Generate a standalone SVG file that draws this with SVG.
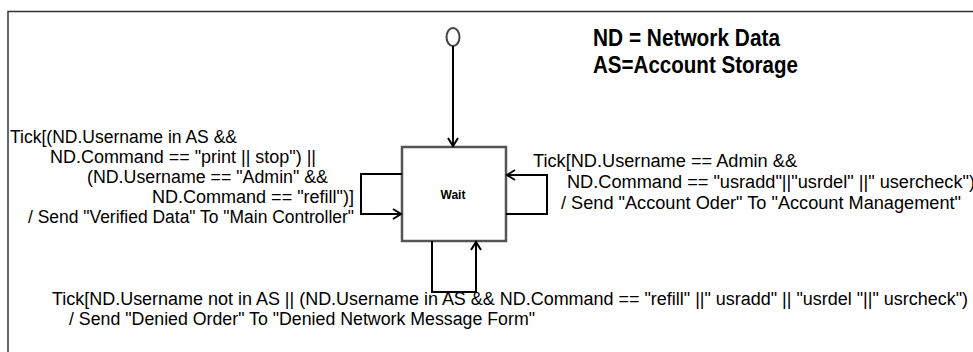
<svg xmlns="http://www.w3.org/2000/svg" width="973" height="352" viewBox="0 0 973 352">
<style>
.t{font-family:"Liberation Sans",Arial,sans-serif;font-size:18px;fill:#000}
.lg{font-family:"Liberation Sans",Arial,sans-serif;font-size:24px;font-weight:bold;fill:#000}
.c{fill:none;stroke:#000;stroke-width:2}
</style>
<defs>
<marker id="arr" markerUnits="userSpaceOnUse" markerWidth="14" markerHeight="14" refX="10" refY="6" orient="auto">
<path d="M2,1 L10,6 L2,11" fill="none" stroke="#000" stroke-width="2"/>
</marker>
</defs>
<rect width="973" height="352" fill="#fff"/>
<path d="M8,352 V11.5 H973" fill="none" stroke="#333" stroke-width="1.5"/>
<g id="legend">
<text class="lg" x="593" y="45.5" textLength="187" lengthAdjust="spacingAndGlyphs">ND = Network Data</text>
<text class="lg" x="593" y="73" textLength="205" lengthAdjust="spacingAndGlyphs">AS=Account Storage</text>
</g>
<g id="initial">
<ellipse cx="453" cy="37" rx="6.5" ry="9" fill="#fff" stroke="#444" stroke-width="2"/>
</g>
<g id="wait">
<rect x="402" y="147" width="104" height="94" fill="#fff" stroke="#555" stroke-width="2.5"/>
<text x="453" y="199" text-anchor="middle" font-family="Liberation Sans, Arial, sans-serif" font-size="12" font-weight="bold">Wait</text>
</g>
<g id="connectors">
<path class="c" d="M453,46 V146" marker-end="url(#arr)"/>
<path class="c" d="M402,174 H361 V214 H401" marker-end="url(#arr)"/>
<path class="c" d="M506,214 H547 V175 H507" marker-end="url(#arr)"/>
<path class="c" d="M432,241 V292 H476 V242" marker-end="url(#arr)"/>
</g>
<g id="label-left">
<text class="t" x="10" y="143" textLength="227" lengthAdjust="spacingAndGlyphs">Tick[(ND.Username in AS &amp;&amp;</text>
<text class="t" x="50" y="163" textLength="266" lengthAdjust="spacingAndGlyphs">ND.Command == "print || stop")  ||</text>
<text class="t" x="87" y="183" textLength="241" lengthAdjust="spacingAndGlyphs">(ND.Username == "Admin" &amp;&amp;</text>
<text class="t" x="152" y="203" textLength="202" lengthAdjust="spacingAndGlyphs">ND.Command == "refill")]</text>
<text class="t" x="28" y="223" textLength="326" lengthAdjust="spacingAndGlyphs">/ Send "Verified Data" To "Main Controller"</text>
</g>
<g id="label-right">
<text class="t" x="533" y="167" textLength="264" lengthAdjust="spacingAndGlyphs">Tick[ND.Username == Admin  &amp;&amp;</text>
<text class="t" x="567" y="188" textLength="408" lengthAdjust="spacingAndGlyphs">ND.Command == "usradd"||"usrdel" ||" usercheck")</text>
<text class="t" x="561" y="209" textLength="400" lengthAdjust="spacingAndGlyphs">/ Send "Account Oder" To "Account Management"</text>
</g>
<g id="label-bottom">
<text class="t" x="52" y="305" textLength="916" lengthAdjust="spacingAndGlyphs">Tick[ND.Username not in AS ||  (ND.Username in AS &amp;&amp; ND.Command == "refill" ||" usradd" || "usrdel "||" usrcheck")</text>
<text class="t" x="69" y="325" textLength="466" lengthAdjust="spacingAndGlyphs">/ Send "Denied Order" To "Denied Network Message Form"</text>
</g>
</svg>
